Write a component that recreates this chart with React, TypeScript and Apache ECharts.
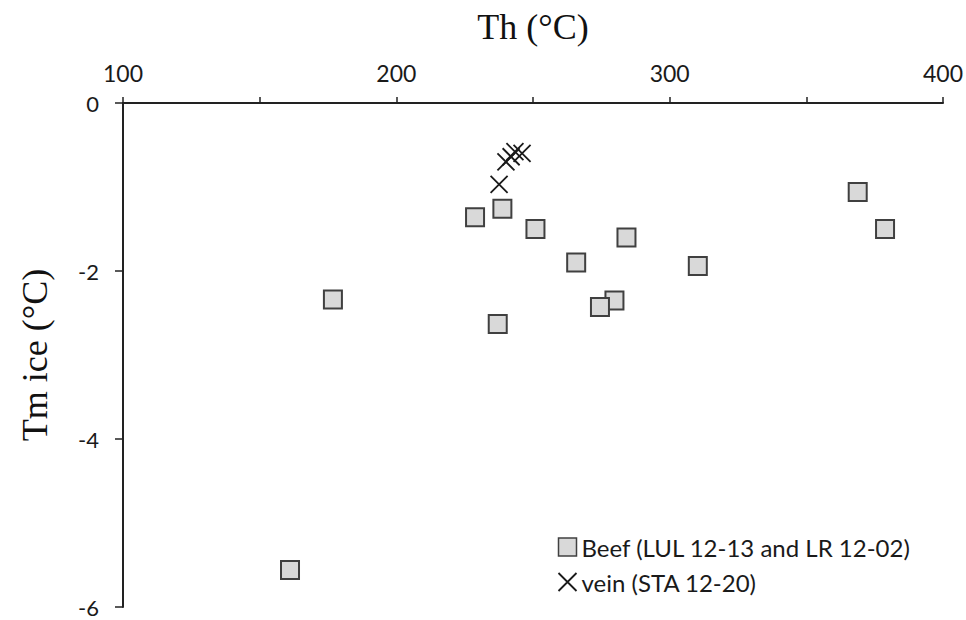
import React, { useEffect, useRef } from "react";
import * as echarts from "echarts";

const beefTh = [161.1, 176.8, 228.8, 238.8, 250.9, 284.2, 265.8, 279.8, 274.5, 237.1, 368.8, 378.8, 310.3];
const beefTm = [-5.56, -2.34, -1.36, -1.26, -1.5, -1.6, -1.9, -2.35, -2.43, -2.63, -1.06, -1.5, -1.94];
const veinTh = [237.6, 240.1, 242.0, 243.4, 246.0];
const veinTm = [-0.97, -0.7, -0.64, -0.58, -0.6];

const beefName = "Beef (LUL 12-13 and LR 12-02)";
const veinName = "vein (STA 12-20)";
const xTitle = "Th (°C)";
const yTitle = "Tm ice (°C)";

const crossPath = "path://M0,0L10,10M10,0L0,10";

export default function App() {
  const ref = useRef<HTMLDivElement>(null);
  useEffect(() => {
    if (!ref.current) return;
    const chart = echarts.init(ref.current, undefined, { renderer: "svg" });
    const sans = "Lato";
    const serif = "Liberation Serif";
    chart.setOption({
      animation: false,
      backgroundColor: "#ffffff",
      grid: { left: 123, top: 103, right: 23, bottom: 13, containLabel: false },
      legend: {
        orient: "vertical",
        left: 556,
        top: 535,
        padding: 0,
        itemGap: 11,
        itemWidth: 18,
        itemHeight: 18,
        textStyle: { fontFamily: sans, fontSize: 24, color: "#1a1a1a" },
        data: [
          { name: beefName, icon: "rect", itemStyle: { color: "#d9d9d9", borderColor: "#404040", borderWidth: 1.5 } },
          { name: veinName, icon: crossPath, itemStyle: { color: "none", borderColor: "#1a1a1a", borderWidth: 1.8 } },
        ],
      },
      xAxis: {
        type: "value",
        position: "top",
        min: 100,
        max: 400,
        interval: 100,
        name: xTitle,
        nameLocation: "middle",
        nameGap: 58,
        nameTextStyle: { fontFamily: serif, fontSize: 36, color: "#111" },
        axisLine: { show: true, onZero: false, lineStyle: { color: "#222", width: 2 } },
        axisTick: { show: true, inside: false, length: 6, lineStyle: { color: "#222", width: 1.5 } },
        minorTick: { show: true, splitNumber: 2, length: 6, lineStyle: { color: "#222", width: 1.5 } },
        axisLabel: { fontFamily: sans, fontSize: 23, color: "#1a1a1a", margin: 19 },
        splitLine: { show: false },
      },
      yAxis: {
        type: "value",
        min: -6,
        max: 0,
        interval: 2,
        name: yTitle,
        nameLocation: "middle",
        nameGap: 70,
        nameRotate: 90,
        nameTextStyle: { fontFamily: serif, fontSize: 36, color: "#111" },
        axisLine: { show: true, onZero: false, lineStyle: { color: "#222", width: 2 } },
        axisTick: { show: true, inside: false, length: 8, lineStyle: { color: "#222", width: 1.5 } },
        axisLabel: { fontFamily: sans, fontSize: 22, lineHeight: 18, color: "#1a1a1a", margin: 24 },
        splitLine: { show: false },
      },
      series: [
        {
          name: beefName,
          type: "scatter",
          symbol: "rect",
          symbolSize: 18,
          itemStyle: { color: "#d9d9d9", borderColor: "#404040", borderWidth: 2, opacity: 1 },
          data: beefTh.map((x, i) => [x, beefTm[i]]),
        },
        {
          name: veinName,
          type: "scatter",
          symbol: crossPath,
          symbolSize: 17,
          itemStyle: { color: "none", borderColor: "#1a1a1a", borderWidth: 1.8, opacity: 1 },
          data: veinTh.map((x, i) => [x, veinTm[i]]),
        },
      ],
    });
    return () => chart.dispose();
  }, []);
  return <div ref={ref} style={{ width: 966, height: 620, position: "absolute", left: 0, top: 0 }} />;
}
